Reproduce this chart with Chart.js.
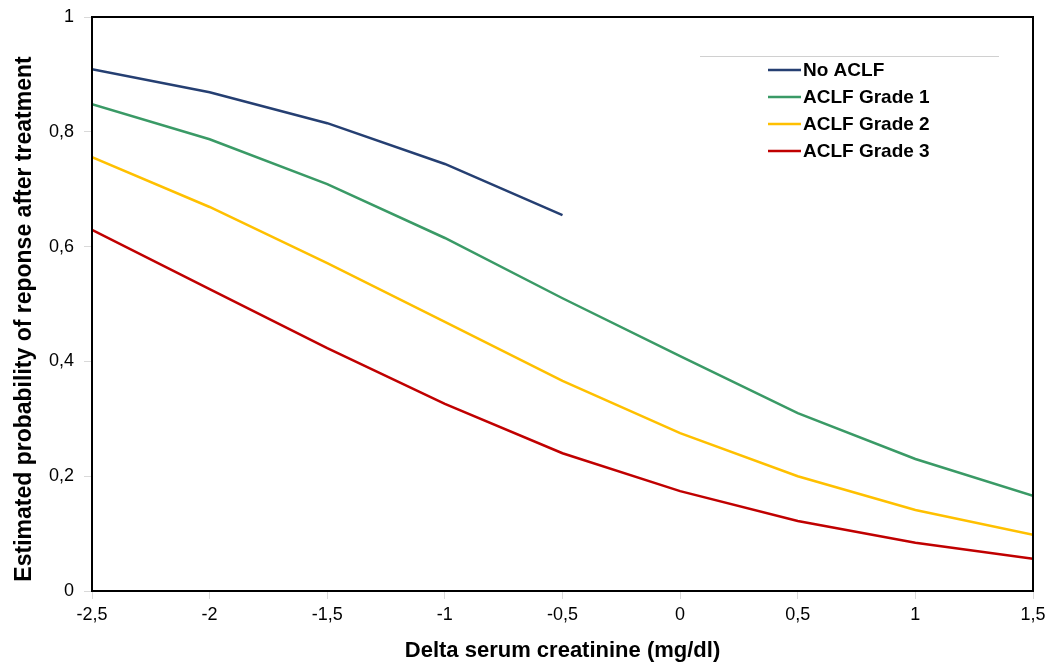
<!DOCTYPE html>
<html>
<head>
<meta charset="utf-8">
<script src="https://cdn.jsdelivr.net/npm/chart.js@4/dist/chart.umd.min.js"></script>
<style>
  html, body { margin: 0; padding: 0; background: #fff; }
  #wrap { width: 1052px; height: 666px; position: relative; }
</style>
</head>
<body>
<div id="wrap"><canvas id="c"></canvas></div>
<script>
// x 值（血肌酐变化量）
var xValues = [-2.5, -2, -1.5, -1, -0.5, 0, 0.5, 1, 1.5];

// 各组估计概率
var noAclf = [0.909, 0.869, 0.815, 0.744, 0.655];
var grade1 = [0.848, 0.787, 0.709, 0.615, 0.510, 0.409, 0.310, 0.230, 0.166];
var grade2 = [0.756, 0.669, 0.571, 0.469, 0.366, 0.275, 0.200, 0.141, 0.098];
var grade3 = [0.629, 0.526, 0.423, 0.326, 0.240, 0.174, 0.122, 0.084, 0.056];

var seriesNames = ["No ACLF", "ACLF Grade 1", "ACLF Grade 2", "ACLF Grade 3"];
var seriesColors = ["#253f72", "#3a9a66", "#ffc000", "#c00000"];
var seriesValues = [noAclf, grade1, grade2, grade3];

var xTitle = "Delta serum creatinine (mg/dl)";
var yTitle = "Estimated probability of reponse after treatment";

var FONT = "'Liberation Sans', Arial, sans-serif";

function toPoints(vals) {
  return vals.map(function (v, i) { return { x: xValues[i], y: v }; });
}

// 逗号小数
function fmt(v) {
  return (Math.round(v * 10) / 10).toString().replace(".", ",");
}

// 四周黑框 + y轴标题 + 右上角图例
var framePlugin = {
  id: "frame",
  afterDraw: function (chart) {
    var ctx = chart.ctx, a = chart.chartArea;
    ctx.save();
    ctx.strokeStyle = "#000";
    ctx.lineWidth = 2;
    ctx.strokeRect(a.left, a.top, a.right - a.left, a.bottom - a.top);

    // y轴标题（比坐标区中心略靠下）
    ctx.save();
    ctx.translate(25, (a.top + a.bottom) / 2 + 15);
    ctx.rotate(-Math.PI / 2);
    ctx.font = "bold 23px " + FONT;
    ctx.textAlign = "center";
    ctx.textBaseline = "middle";
    ctx.fillStyle = "#000";
    ctx.fillText(yTitle, 0, 0);
    ctx.restore();

    // 图例上方灰线
    ctx.strokeStyle = "#d0d0d0";
    ctx.lineWidth = 1;
    ctx.beginPath();
    ctx.moveTo(700, 56.5);
    ctx.lineTo(999, 56.5);
    ctx.stroke();

    ctx.font = "bold 19px " + FONT;
    ctx.textBaseline = "middle";
    ctx.fillStyle = "#000";
    for (var i = 0; i < seriesNames.length; i++) {
      var y = 70 + i * 27;
      ctx.strokeStyle = seriesColors[i];
      ctx.lineWidth = 2.5;
      ctx.beginPath();
      ctx.moveTo(768, y);
      ctx.lineTo(801, y);
      ctx.stroke();
      ctx.fillText(seriesNames[i], 803, y + 1);
    }
    ctx.restore();
  }
};

new Chart(document.getElementById("c"), {
  type: "line",
  data: {
    datasets: seriesValues.map(function (vals, i) {
      return {
        label: seriesNames[i],
        data: toPoints(vals),
        borderColor: seriesColors[i],
        backgroundColor: seriesColors[i],
        borderWidth: 2.5,
        pointRadius: 0,
        tension: 0,
        fill: false
      };
    })
  },
  options: {
    responsive: true,
    maintainAspectRatio: false,
    animation: false,
    layout: { padding: { left: 0, right: 19, top: 17, bottom: 0 } },
    plugins: {
      legend: { display: false },
      tooltip: { enabled: false }
    },
    scales: {
      x: {
        type: "linear",
        min: -2.5,
        max: 1.5,
        afterFit: function (s) { s.height = 75; s.paddingLeft = 0; s.paddingRight = 0; },
        ticks: {
          stepSize: 0.5,
          color: "#000",
          padding: 5,
          font: { family: FONT, size: 18 },
          callback: function (v) { return fmt(v); }
        },
        grid: { drawOnChartArea: false, color: "#d9d9d9", tickLength: 8 },
        border: { color: "#000", width: 2 },
        title: {
          display: true,
          text: xTitle,
          color: "#000",
          font: { family: FONT, size: 22, weight: "bold" },
          padding: { top: 4, bottom: 2 }
        }
      },
      y: {
        min: 0,
        max: 1,
        afterFit: function (s) { s.width = 92; s.paddingTop = 0; s.paddingBottom = 0; },
        ticks: {
          stepSize: 0.2,
          color: "#000",
          padding: 10,
          font: { family: FONT, size: 18 },
          callback: function (v) { return fmt(v); }
        },
        grid: { drawOnChartArea: false, color: "#d9d9d9", tickLength: 8 },
        border: { color: "#000", width: 2 }
      }
    }
  },
  plugins: [framePlugin]
});
</script>
</body>
</html>
